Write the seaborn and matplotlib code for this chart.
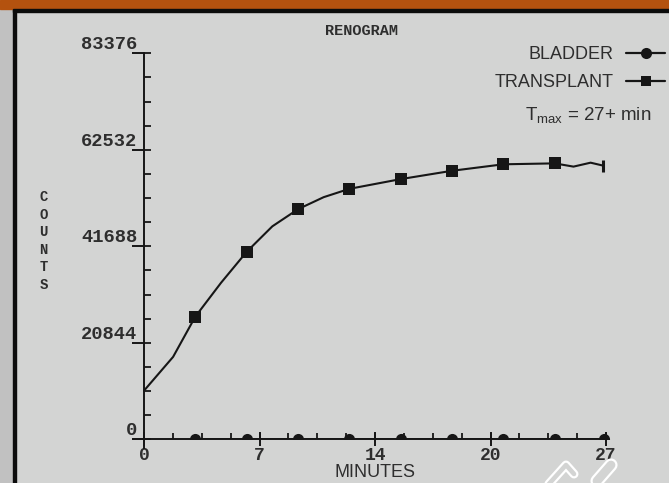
import numpy as np
import pandas as pd
import seaborn as sns
import matplotlib
matplotlib.use("Agg")
import matplotlib.pyplot as plt
from matplotlib.lines import Line2D
from matplotlib.patches import Rectangle
from matplotlib.ticker import FixedLocator

# ---- renogram data -------------------------------------------------------
# transplant kidney time-activity curve (minutes, counts)
curve_minutes = [0, 1.7, 3, 4.5, 6, 7.5, 9, 10.5, 12, 15, 18, 21, 24, 25.1, 26.1, 26.85]
curve_counts = [10500, 17800, 26500, 33800, 40500, 46000, 49700, 52300, 54100,
                56200, 58000, 59400, 59600, 58900, 59750, 59100]
# sampled frames drawn with square markers
sample_minutes = [3, 6, 9, 12, 15, 18, 21, 24]
transplant_counts = [26500, 40500, 49700, 54100, 56200, 58000, 59400, 59600]
# bladder activity stays at the baseline
bladder_minutes = [3, 6, 9, 12, 15, 18, 21, 24, 26.9]
bladder_counts = [0, 0, 0, 0, 0, 0, 0, 0, 0]

x_tick_pos = [0, 6.75, 13.5, 20.25, 27]
x_tick_labels = ["0", "7", "14", "20", "27"]
y_tick_pos = [0, 20844, 41688, 62532, 83376]
y_tick_labels = ["0", "20844", "41688", "62532", "83376"]

# ---- style ---------------------------------------------------------------
sns.set_theme(style="white")
plt.rcParams["font.family"] = ["Liberation Sans", "DejaVu Sans"]
plt.rcParams["mathtext.fontset"] = "custom"
plt.rcParams["mathtext.rm"] = "Liberation Sans"
plt.rcParams["mathtext.it"] = "Liberation Sans"

INK = "#161616"
TEXT = "#2e2e2e"
BG = "#d3d4d3"
MONO = ["Liberation Mono", "DejaVu Sans Mono"]

W, H = 669, 483
fig = plt.figure(figsize=(W / 100, H / 100), dpi=100)
fig.patch.set_facecolor(BG)


def fx(px):
    return px / W


def fy(py):
    return 1 - py / H


# slide frame: side strip, top band and dark rules
fig.add_artist(Rectangle((0, 0), fx(12.5), 1, transform=fig.transFigure,
                         color="#c1c1c1", zorder=0))
fig.add_artist(Rectangle((fx(12.5), 0), fx(3.2), 1, transform=fig.transFigure,
                         color="#0c0c0c", zorder=1))
fig.add_artist(Rectangle((0, fy(9)), 1, 9 / H, transform=fig.transFigure,
                         color="#b4520f", zorder=1))
fig.add_artist(Rectangle((fx(12.5), fy(12)), 1, 3 / H, transform=fig.transFigure,
                         color="#0c0c0c", zorder=1))

# pen cursor outline over the lower right corner of the slide
for xs, ys, lw_out in [([597, 611], [481, 465], 9.5), ([548, 566, 574], [485, 465, 474], 6.5)]:
    fx_pts = [fx(v) for v in xs]
    fy_pts = [fy(v) for v in ys]
    fig.add_artist(Line2D(fx_pts, fy_pts, transform=fig.transFigure, color="white",
                          lw=lw_out, solid_capstyle="round", solid_joinstyle="round",
                          zorder=6))
    fig.add_artist(Line2D(fx_pts, fy_pts, transform=fig.transFigure, color=BG,
                          lw=lw_out - 3.2, solid_capstyle="round",
                          solid_joinstyle="round", zorder=7))

# ---- axes placed so the data scale matches the frame ---------------------
x0_px, x27_px = 144.0, 606.0
y0_px, ytop_px = 439.3, 53.3
ppm = (x27_px - x0_px) / 27.0
ppc = (y0_px - ytop_px) / 83376.0
xlim = (-1.0, 28.0)
ylim = (-3000.0, 85000.0)
left = x0_px + xlim[0] * ppm
right = x0_px + xlim[1] * ppm
bottom = y0_px - ylim[0] * ppc
top = y0_px - ylim[1] * ppc
ax = fig.add_axes([fx(left), 1 - bottom / H, (right - left) / W, (bottom - top) / H])
ax.set_facecolor("none")
ax.set_xlim(*xlim)
ax.set_ylim(*ylim)

# transplant curve with sampled squares and closing bar
sns.lineplot(x=curve_minutes, y=curve_counts, ax=ax, color=INK, lw=1.5, zorder=4)
sns.scatterplot(x=sample_minutes, y=transplant_counts, ax=ax, marker="s", s=80,
                color=INK, edgecolor=INK, linewidth=0, zorder=5)
ax.plot([curve_minutes[-1]], [curve_counts[-1]], marker="|", ms=9, mew=2.2,
        color=INK, zorder=5)

# bladder counts sit on the baseline; only the upper half of each dot shows
sns.lineplot(x=bladder_minutes, y=bladder_counts, ax=ax, color=INK, lw=1.2,
             marker="o", markersize=8, markeredgewidth=0, zorder=3)
bladder_line = ax.lines[-1]
bladder_line.set_clip_path(Rectangle((-1, 0), 30, 90000, transform=ax.transData))

# ---- axes styling --------------------------------------------------------
for s in ("top", "right"):
    ax.spines[s].set_visible(False)
ax.spines["left"].set_position(("data", 0))
ax.spines["bottom"].set_position(("data", 0))
ax.spines["left"].set_bounds(-1800, 83376)
ax.spines["bottom"].set_bounds(-0.65, 27)
for s in ("left", "bottom"):
    ax.spines[s].set_color(INK)
    ax.spines[s].set_linewidth(1.4)

ax.set_xticks(x_tick_pos)
ax.set_xticklabels(x_tick_labels)
ax.set_yticks(y_tick_pos)
ax.set_yticklabels(y_tick_labels)
ax.xaxis.set_minor_locator(FixedLocator(np.arange(0, 27.01, 27 / 16)))
ax.yaxis.set_minor_locator(FixedLocator(np.arange(0, 83376.1, 83376 / 16)))
ax.xaxis.remove_overlapping_locs = False
ax.yaxis.remove_overlapping_locs = False

ax.tick_params(axis="x", which="major", direction="inout", length=10, width=1.4,
               color=INK, pad=0.8, labelsize=13, labelcolor=TEXT, bottom=True)
ax.tick_params(axis="x", which="minor", direction="in", length=4.5, width=1.3,
               color=INK, bottom=True)
ax.tick_params(axis="y", which="major", direction="out", length=9, width=1.4,
               color=INK, pad=-4.3, labelsize=13.5, labelcolor=TEXT, left=True)
ax.tick_params(axis="y", which="minor", direction="in", length=5, width=1.3,
               color=INK, left=True)
for lab in ax.get_xticklabels() + ax.get_yticklabels():
    lab.set_family(MONO)
    lab.set_weight("bold")
for lab in ax.get_yticklabels():
    lab.set_verticalalignment("bottom")

ax.set_xlabel("MINUTES", fontsize=13, color=TEXT)
ax.xaxis.set_label_coords(fx(375), fy(464), transform=fig.transFigure)
ax.set_ylabel("")

# ---- titles and annotations ---------------------------------------------
fig.text(fx(361), fy(31), "RENOGRAM", ha="center", va="center", family=MONO,
         weight="bold", fontsize=11, color=TEXT)
fig.text(fx(43.5), fy(241), "C\nO\nU\nN\nT\nS", ha="center", va="center",
         family=MONO, weight="bold", fontsize=10, linespacing=1.32, color=TEXT)

handles = [
    Line2D([], [], color=INK, lw=1.6, marker="o", ms=8, mew=0),
    Line2D([], [], color=INK, lw=1.6, marker="s", ms=7, mew=0),
]
ax.legend(handles, ["BLADDER", "TRANSPLANT"], markerfirst=False, frameon=False,
          loc="upper right", bbox_to_anchor=(fx(665), fy(46)),
          bbox_transform=fig.transFigure, borderaxespad=0, borderpad=0,
          handlelength=2.15, handletextpad=0.72, labelspacing=0.62, fontsize=13,
          labelcolor=TEXT)
fig.text(fx(651), fy(115), r"T$_{\mathrm{max}}$ = 27+ min", ha="right", va="center",
         fontsize=13.5, color=TEXT)

fig.savefig("out.png", dpi=100, facecolor=fig.get_facecolor())
